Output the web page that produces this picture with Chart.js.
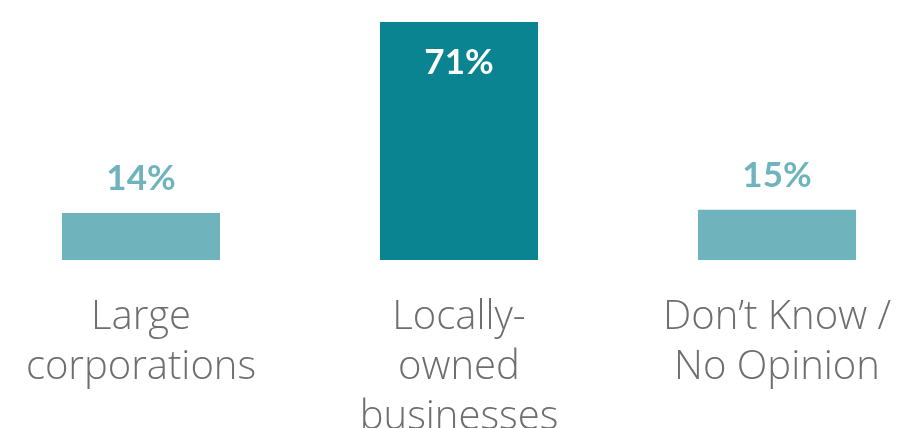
<!DOCTYPE html>
<html>
<head>
<meta charset="utf-8">
<script src="https://cdn.jsdelivr.net/npm/chart.js@4"></script>
<style>
  html, body { margin: 0; padding: 0; background: #fff; overflow: hidden; width: 898px; height: 428px; }
  .chartBox { position: absolute; left: -18px; top: 0; width: 954px; height: 468px; }
</style>
</head>
<body>
<div class="chartBox"><canvas id="chart"></canvas></div>
<script>
const categories = [
  ["Large", "corporations"],
  ["Locally-", "owned", "businesses"],
  ["Don\u2019t Know /", "No Opinion"]
];
const values = [14, 71, 15];
const barColors = ["#6FB4BD", "#0A8490", "#6FB4BD"];
const labelColors = ["#6FB4BD", "#FFFFFF", "#6FB4BD"];
const insideLabel = [false, true, false];

// draws the percentage labels on / above each bar
const valueLabels = {
  id: "valueLabels",
  afterDatasetsDraw(chart) {
    const ctx = chart.ctx;
    const meta = chart.getDatasetMeta(0);
    ctx.save();
    ctx.font = "bold 35px Lato";
    ctx.textAlign = "center";
    ctx.textBaseline = "alphabetic";
    meta.data.forEach((bar, i) => {
      ctx.fillStyle = labelColors[i];
      const y = insideLabel[i] ? bar.y + 52 : bar.y - 23;
      ctx.fillText(values[i] + "%", bar.x, y);
    });
    ctx.restore();
  }
};

new Chart(document.getElementById("chart"), {
  type: "bar",
  data: {
    labels: categories,
    datasets: [{
      data: values,
      backgroundColor: barColors,
      borderWidth: 0,
      categoryPercentage: 1,
      barPercentage: 0.497
    }]
  },
  options: {
    responsive: true,
    maintainAspectRatio: false,
    animation: false,
    layout: { padding: { top: 22, left: 0, right: 0, bottom: 0 } },
    plugins: {
      legend: { display: false },
      tooltip: { enabled: false }
    },
    scales: {
      x: {
        grid: { display: false },
        border: { display: false },
        ticks: {
          color: "#6E6E6E",
          font: { family: "Open Sans", size: 40, weight: 300, lineHeight: "50px" },
          padding: 25,
          maxRotation: 0,
          autoSkip: false
        }
      },
      y: {
        display: false,
        min: 0,
        max: 71
      }
    }
  },
  plugins: [valueLabels]
});
</script>
</body>
</html>
